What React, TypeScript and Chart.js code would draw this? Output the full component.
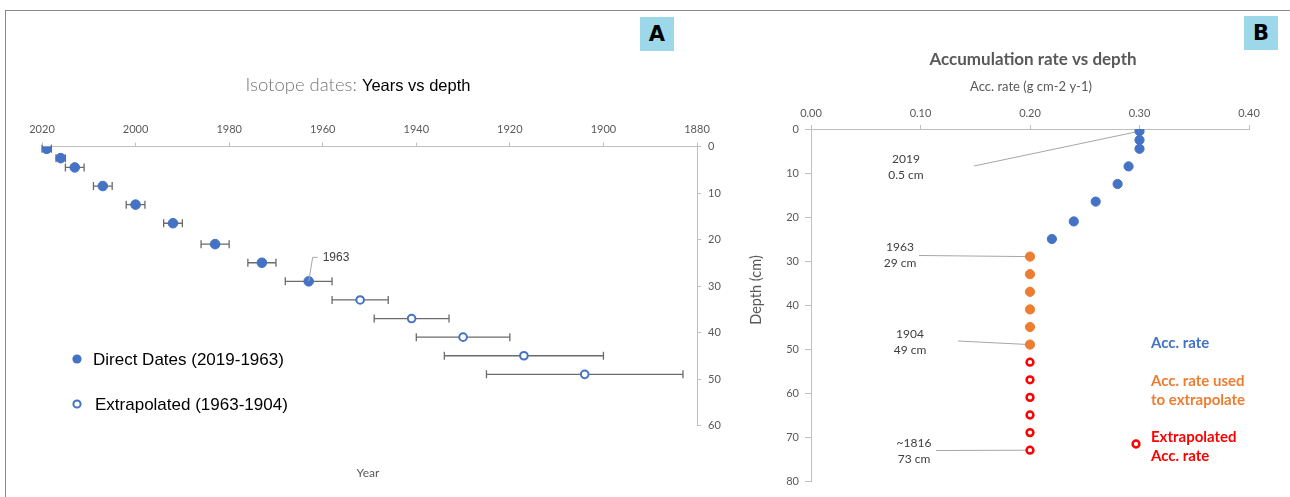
import React, { useEffect, useRef } from 'react';
import { Chart, registerables } from 'chart.js';

Chart.register(...registerables);

const W = 1290;
const H = 497;

// Panel A: isotope dates (year) against depth (cm)
const directYears = [2019, 2016, 2013, 2007, 2000, 1992, 1983, 1973, 1963];
const directDepths = [0.5, 2.5, 4.5, 8.5, 12.5, 16.5, 21, 25, 29];
const directErrors = [1, 1, 2, 2, 2, 2, 3, 3, 5];
const extrapYears = [1952, 1941, 1930, 1917, 1904];
const extrapDepths = [33, 37, 41, 45, 49];
const extrapErrors = [6, 8, 10, 17, 21];
const yearTicks = [2020, 2000, 1980, 1960, 1940, 1920, 1900, 1880];

// Panel B: accumulation rate (g cm-2 y-1) against depth (cm)
const measuredDepths = [0.5, 2.5, 4.5, 8.5, 12.5, 16.5, 21, 25];
const measuredRates = [0.3, 0.3, 0.3, 0.29, 0.28, 0.26, 0.24, 0.22];
const usedDepths = [29, 33, 37, 41, 45, 49];
const usedRates = [0.2, 0.2, 0.2, 0.2, 0.2, 0.2];
const extrapolatedDepths = [53, 57, 61, 65, 69, 73];
const extrapolatedRates = [0.2, 0.2, 0.2, 0.2, 0.2, 0.2];

// Callout labels in panel B
const calloutYears = ['2019', '1963', '1904', '~1816'];
const calloutDepthText = ['0.5 cm', '29 cm', '49 cm', '73 cm'];
const calloutDepths = [0.5, 29, 49, 73];
const calloutRates = [0.3, 0.2, 0.2, 0.2];

const BLUE = '#4472C4';
const ORANGE = '#ED7D31';
const RED = '#FF0000';
const TEXT = '#595959';
const DARK = '#404040';
const AXIS = '#bfbfbf';
const CAL = 'Lato, "Open Sans", sans-serif';
const ARIAL = '"Liberation Sans", Arial, sans-serif';

const pts = (xs: number[], ys: number[]) => xs.map((x, i) => ({ x, y: ys[i] }));

const errorBars = {
  id: 'errorBars',
  beforeDatasetsDraw(chart: any) {
    const { ctx, scales } = chart;
    const { x, y } = scales;
    ctx.save();
    ctx.strokeStyle = '#6b6b6b';
    ctx.lineWidth = 1.3;
    const draw = (years: number[], depths: number[], errs: number[]) => {
      years.forEach((yr, i) => {
        const py = y.getPixelForValue(depths[i]);
        const x1 = x.getPixelForValue(yr + errs[i]);
        const x2 = x.getPixelForValue(yr - errs[i]);
        ctx.beginPath();
        ctx.moveTo(x1, py);
        ctx.lineTo(x2, py);
        ctx.moveTo(x1, py - 4);
        ctx.lineTo(x1, py + 4);
        ctx.moveTo(x2, py - 4);
        ctx.lineTo(x2, py + 4);
        ctx.stroke();
      });
    };
    draw(directYears, directDepths, directErrors);
    draw(extrapYears, extrapDepths, extrapErrors);
    ctx.restore();
  },
};

const panelADecor = {
  id: 'panelADecor',
  afterDraw(chart: any) {
    const { ctx, scales } = chart;
    const { x, y } = scales;
    ctx.save();
    // Title in two styles
    const p1 = 'Isotope dates: ';
    const p2 = 'Years vs depth';
    const f1 = `300 18.5px ${CAL}`;
    const f2 = `16.5px ${ARIAL}`;
    ctx.textBaseline = 'middle';
    ctx.font = f1;
    const w1 = ctx.measureText(p1).width;
    ctx.font = f2;
    const w2 = ctx.measureText(p2).width;
    const start = 358 - (w1 + w2) / 2;
    ctx.textAlign = 'left';
    ctx.font = f1;
    ctx.fillStyle = '#767676';
    ctx.fillText(p1, start, 85);
    ctx.font = f2;
    ctx.fillStyle = '#000';
    ctx.fillText(p2, start + w1, 86);

    // 1963 callout
    const i = directYears.length - 1;
    const px = x.getPixelForValue(directYears[i]);
    const py = y.getPixelForValue(directDepths[i]);
    ctx.strokeStyle = '#a6a6a6';
    ctx.lineWidth = 1;
    ctx.beginPath();
    ctx.moveTo(px, py);
    ctx.lineTo(px + 4, py - 24);
    ctx.lineTo(px + 9, py - 24);
    ctx.stroke();
    ctx.fillStyle = DARK;
    ctx.font = `12px ${ARIAL}`;
    ctx.fillText('1963', px + 14, py - 24);

    // Legend
    ctx.fillStyle = BLUE;
    ctx.beginPath();
    ctx.arc(77, 359, 4.6, 0, Math.PI * 2);
    ctx.fill();
    ctx.strokeStyle = BLUE;
    ctx.lineWidth = 2;
    ctx.beginPath();
    ctx.arc(77, 404, 3.6, 0, Math.PI * 2);
    ctx.stroke();
    ctx.fillStyle = '#000';
    ctx.font = `17px ${ARIAL}`;
    ctx.fillText('Direct Dates (2019-1963)', 93, 360);
    ctx.fillText('Extrapolated (1963-1904)', 95, 405);

    // Axis title at the bottom
    ctx.textAlign = 'center';
    ctx.fillStyle = TEXT;
    ctx.font = `12px ${CAL}`;
    ctx.fillText('Year', 368, 473);
    ctx.restore();
  },
};

const panelBDecor = {
  id: 'panelBDecor',
  beforeDatasetsDraw(chart: any) {
    const { ctx, scales } = chart;
    const { x, y } = scales;
    const starts = [
      [974, 166],
      [919, 255.5],
      [958, 341],
      [936, 450.5],
    ];
    ctx.save();
    ctx.strokeStyle = '#a6a6a6';
    ctx.lineWidth = 1;
    calloutDepths.forEach((d, i) => {
      ctx.beginPath();
      ctx.moveTo(starts[i][0], starts[i][1]);
      ctx.lineTo(x.getPixelForValue(calloutRates[i]), y.getPixelForValue(d));
      ctx.stroke();
    });
    ctx.restore();
  },
  afterDraw(chart: any) {
    const { ctx } = chart;
    ctx.save();
    ctx.textBaseline = 'middle';
    ctx.textAlign = 'center';
    ctx.fillStyle = TEXT;
    ctx.font = `bold 17px ${CAL}`;
    ctx.fillText('Accumulation rate vs depth', 1033, 60);
    ctx.font = `13px ${CAL}`;
    ctx.fillText('Acc. rate (g cm-2 y-1)', 1031, 87);

    ctx.save();
    ctx.translate(756, 290);
    ctx.rotate(-Math.PI / 2);
    ctx.font = `14.5px ${CAL}`;
    ctx.fillText('Depth (cm)', 0, 0);
    ctx.restore();

    // Callout text
    const pos = [
      [906, 159],
      [900, 247],
      [910, 334],
      [914, 443],
    ];
    ctx.fillStyle = DARK;
    ctx.font = `12px ${CAL}`;
    calloutYears.forEach((t, i) => {
      ctx.fillText(t, pos[i][0], pos[i][1]);
      ctx.fillText(calloutDepthText[i], pos[i][0], pos[i][1] + 16);
    });

    // Legend text
    ctx.textAlign = 'left';
    ctx.font = `bold 15px ${CAL}`;
    ctx.fillStyle = BLUE;
    ctx.fillText('Acc. rate', 1151, 343);
    ctx.fillStyle = ORANGE;
    ctx.fillText('Acc. rate used', 1151, 381);
    ctx.fillText('to extrapolate', 1151, 400);
    ctx.fillStyle = RED;
    ctx.fillText('Extrapolated', 1151, 437);
    ctx.fillText('Acc. rate', 1151, 456);
    ctx.strokeStyle = RED;
    ctx.lineWidth = 2.5;
    ctx.fillStyle = '#fff';
    ctx.beginPath();
    ctx.arc(1136, 444, 3.4, 0, Math.PI * 2);
    ctx.fill();
    ctx.stroke();
    ctx.restore();
  },
};

const tickFont = { family: CAL, size: 11 };

function makeChartA(canvas: HTMLCanvasElement) {
  return new Chart(canvas, {
    type: 'scatter',
    data: {
      datasets: [
        {
          label: 'Direct Dates (2019-1963)',
          data: pts(directYears, directDepths),
          pointRadius: 4.8,
          pointBackgroundColor: BLUE,
          pointBorderColor: BLUE,
          pointBorderWidth: 1,
        },
        {
          label: 'Extrapolated (1963-1904)',
          data: pts(extrapYears, extrapDepths),
          pointRadius: 3.8,
          pointBackgroundColor: '#ffffff',
          pointBorderColor: BLUE,
          pointBorderWidth: 2,
        },
      ],
    },
    options: {
      responsive: false,
      animation: false,
      events: [],
      layout: { padding: { left: 42, top: 116.5, right: 563, bottom: 71.5 } },
      plugins: { legend: { display: false }, tooltip: { enabled: false } },
      scales: {
        x: {
          type: 'linear',
          position: 'top',
          reverse: true,
          min: yearTicks[yearTicks.length - 1],
          max: yearTicks[0],
          afterBuildTicks: (s: any) => {
            s.ticks = yearTicks.map((v) => ({ value: v }));
          },
          ticks: { color: TEXT, font: tickFont, padding: 6, maxRotation: 0, callback: (v: any) => String(v) },
          grid: { drawOnChartArea: false, drawTicks: true, tickLength: 4, color: AXIS },
          border: { color: AXIS },
          afterFit: (s: any) => {
            s.height = 30;
          },
        },
        y: {
          type: 'linear',
          position: 'right',
          reverse: true,
          min: 0,
          max: 60,
          ticks: { stepSize: 10, color: TEXT, font: tickFont, padding: 7 },
          grid: { drawOnChartArea: false, drawTicks: true, tickLength: 4, color: AXIS },
          border: { color: AXIS },
          afterFit: (s: any) => {
            s.width = 30;
          },
        },
      },
    } as any,
    plugins: [errorBars, panelADecor],
  });
}

function makeChartB(canvas: HTMLCanvasElement) {
  return new Chart(canvas, {
    type: 'scatter',
    data: {
      datasets: [
        {
          label: 'Acc. rate',
          data: pts(measuredRates, measuredDepths),
          pointRadius: 4.6,
          pointBackgroundColor: BLUE,
          pointBorderColor: BLUE,
          pointBorderWidth: 1,
        },
        {
          label: 'Acc. rate used to extrapolate',
          data: pts(usedRates, usedDepths),
          pointRadius: 4.6,
          pointBackgroundColor: ORANGE,
          pointBorderColor: ORANGE,
          pointBorderWidth: 1,
        },
        {
          label: 'Extrapolated Acc. rate',
          data: pts(extrapolatedRates, extrapolatedDepths),
          pointRadius: 3.4,
          pointBackgroundColor: '#ffffff',
          pointBorderColor: RED,
          pointBorderWidth: 2.5,
        },
      ],
    },
    options: {
      responsive: false,
      animation: false,
      events: [],
      layout: { padding: { left: 771, top: 99, right: 41, bottom: 16 } },
      plugins: { legend: { display: false }, tooltip: { enabled: false } },
      scales: {
        x: {
          type: 'linear',
          position: 'top',
          min: 0,
          max: 0.4,
          ticks: { stepSize: 0.1, color: TEXT, font: tickFont, padding: 5, maxRotation: 0, callback: (v: any) => Number(v).toFixed(2) },
          grid: { drawOnChartArea: false, drawTicks: true, tickLength: 4, color: AXIS },
          border: { color: AXIS },
          afterFit: (s: any) => {
            s.height = 30;
          },
        },
        y: {
          type: 'linear',
          position: 'left',
          reverse: true,
          min: 0,
          max: 80,
          ticks: { stepSize: 10, color: TEXT, font: tickFont, padding: 6 },
          grid: { drawOnChartArea: false, drawTicks: true, tickLength: 6, color: AXIS },
          border: { color: AXIS },
          afterFit: (s: any) => {
            s.width = 40;
          },
        },
      },
    } as any,
    plugins: [panelBDecor],
  });
}

const badge = (left: number, top: number): React.CSSProperties => ({
  position: 'absolute',
  left,
  top,
  width: 34,
  height: 34,
  background: '#9DD8EA',
  color: '#000',
  font: 'bold 21px "DejaVu Sans", Arial, sans-serif',
  display: 'flex',
  alignItems: 'center',
  justifyContent: 'center',
});

export default function App() {
  const refA = useRef<HTMLCanvasElement>(null);
  const refB = useRef<HTMLCanvasElement>(null);

  useEffect(() => {
    const a = makeChartA(refA.current!);
    const b = makeChartB(refB.current!);
    return () => {
      a.destroy();
      b.destroy();
    };
  }, []);

  const layer: React.CSSProperties = { position: 'absolute', left: 0, top: 0, width: W, height: H };

  return (
    <div style={{ position: 'absolute', left: 0, top: 0, width: W, height: H, background: '#fff', overflow: 'hidden' }}>
      <div style={{ position: 'absolute', left: 5, top: 10, width: W - 5, height: 0, borderTop: '1.5px solid #8a8a8a' }} />
      <div style={{ position: 'absolute', left: 5, top: 10, width: 0, height: H - 10, borderLeft: '1.5px solid #8a8a8a' }} />
      <canvas ref={refA} width={W} height={H} style={layer} />
      <canvas ref={refB} width={W} height={H} style={layer} />
      <div style={badge(640, 17)}>A</div>
      <div style={badge(1244, 16)}>B</div>
    </div>
  );
}
